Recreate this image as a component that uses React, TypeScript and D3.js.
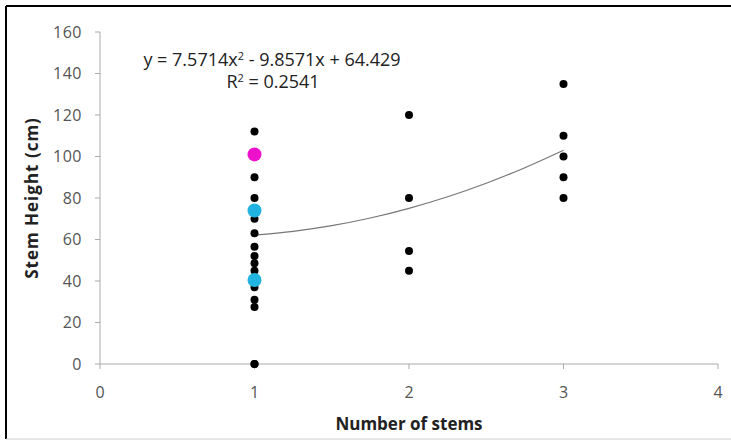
import React from "react";
import * as d3 from "d3";

const xTicks = [0, 1, 2, 3, 4];
const yTicks = [0, 20, 40, 60, 80, 100, 120, 140, 160];

const blackX = [1, 1, 1, 1, 1, 1, 1, 1, 1, 1, 1, 1, 1, 1, 2, 2, 2, 2, 3, 3, 3, 3, 3];
const blackY = [112, 90, 80, 70, 63, 56.5, 52, 48.5, 45, 37, 31, 27.5, 0, 0, 120, 80, 54.5, 45, 135, 110, 100, 90, 80];
const pinkPts: [number, number][] = [[1, 101]];
const cyanPts: [number, number][] = [[1, 74], [1, 40.5]];

const coef = [7.5714, -9.8571, 64.429];
const trendX = [1, 1.25, 1.5, 1.75, 2, 2.25, 2.5, 2.75, 3];

const W = 731, H = 441;
const ml = 100, mr = 718, mt = 32, mb = 364;

export default function App() {
  const x = d3.scaleLinear().domain([0, 4]).range([ml, mr]);
  const y = d3.scaleLinear().domain([0, 160]).range([mb, mt]);
  const f = (v: number) => coef[0] * v * v + coef[1] * v + coef[2];
  const line = d3.line<number>().x(d => x(d)).y(d => y(f(d))).curve(d3.curveMonotoneX);
  const font = "'Open Sans', 'Liberation Sans', sans-serif";
  return (
    <svg width={W} height={H} style={{ position: "absolute", left: 0, top: 0, background: "#fff" }} fontFamily={font}>
      <rect x={0} y={0} width={W} height={H} fill="#fff" />
      <line x1={6} y1={6} x2={W} y2={6} stroke="#000" strokeWidth={2} />
      <line x1={6} y1={6} x2={6} y2={439} stroke="#000" strokeWidth={2} />
      <line x1={6} y1={439} x2={W} y2={439} stroke="#ccc" strokeWidth={1} />
      {/* axes */}
      <line x1={ml} y1={mt} x2={ml} y2={mb} stroke="#aaa" strokeWidth={1} />
      <line x1={ml} y1={mb} x2={mr} y2={mb} stroke="#aaa" strokeWidth={1.2} />
      {yTicks.map(t => (
        <g key={"y" + t}>
          <line x1={ml - 5} x2={ml} y1={y(t)} y2={y(t)} stroke="#aaa" />
          <text x={ml - 18} y={y(t)} dy="0.36em" textAnchor="end" fontSize={16} letterSpacing={0.5} fill="#555">{t}</text>
        </g>
      ))}
      {xTicks.map(t => (
        <g key={"x" + t}>
          <line x1={x(t)} x2={x(t)} y1={mb} y2={mb + 5} stroke="#aaa" />
          <text x={x(t)} y={mb + 34} textAnchor="middle" fontSize={16} fill="#555">{t}</text>
        </g>
      ))}
      <text x={409} y={430} textAnchor="middle" fontSize={17} fontWeight="bold" fill="#222">Number of stems</text>
      <text transform={`translate(38,198) rotate(-90)`} textAnchor="middle" fontSize={17} letterSpacing={1} fontWeight="bold" fill="#222">Stem Height (cm)</text>
      {/* trendline */}
      <path d={line(trendX) || ""} fill="none" stroke="#777" strokeWidth={1.2} />
      {blackX.map((xv, i) => (
        <circle key={"b" + i} cx={x(xv)} cy={y(blackY[i])} r={4} fill="#000" />
      ))}
      {pinkPts.map((p, i) => (
        <circle key={"p" + i} cx={x(p[0])} cy={y(p[1])} r={7} fill="#ee11cc" />
      ))}
      {cyanPts.map((p, i) => (
        <circle key={"c" + i} cx={x(p[0])} cy={y(p[1])} r={7} fill="#22b4e0" />
      ))}
      <text x={272} y={66} textAnchor="middle" fontSize={18} fill="#222">
        y = 7.5714x<tspan dy={-6} fontSize={11}>2</tspan><tspan dy={6}> - 9.8571x + 64.429</tspan>
      </text>
      <text x={273} y={88} textAnchor="middle" fontSize={18} fill="#222">
        R<tspan dy={-6} fontSize={11}>2</tspan><tspan dy={6}> = 0.2541</tspan>
      </text>
    </svg>
  );
}
